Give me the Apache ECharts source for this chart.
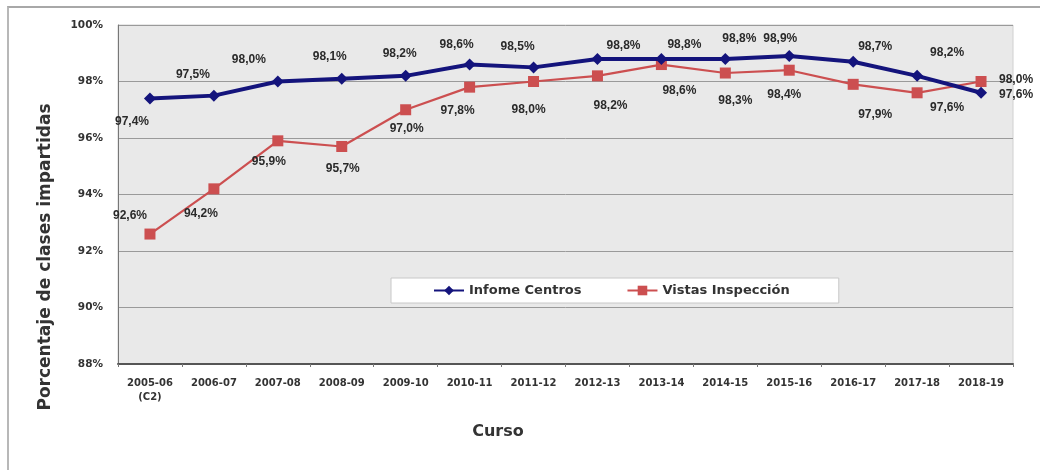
<!DOCTYPE html>
<html>
<head>
<meta charset="utf-8">
<script src="https://cdn.jsdelivr.net/npm/echarts@6/dist/echarts.min.js"></script>
<style>
  html, body { margin: 0; padding: 0; background: #fff; }
  #frame { position: absolute; left: 7px; top: 6px; width: 1040px; height: 470px;
           border-top: 2px solid #a8a8a8; border-left: 2px solid #b8b8b8; }
  #chart { position: absolute; left: 0; top: 0; width: 1040px; height: 470px; }
</style>
</head>
<body>
<div id="frame"></div>
<div id="chart"></div>
<script>
var cursos = ['2005-06\n(C2)', '2006-07', '2007-08', '2008-09', '2009-10', '2010-11', '2011-12',
              '2012-13', '2013-14', '2014-15', '2015-16', '2016-17', '2017-18', '2018-19'];
var informeCentros = [97.4, 97.5, 98.0, 98.1, 98.2, 98.6, 98.5, 98.8, 98.8, 98.8, 98.9, 98.7, 98.2, 97.6];
var vistasInspeccion = [92.6, 94.2, 95.9, 95.7, 97.0, 97.8, 98.0, 98.2, 98.6, 98.3, 98.4, 97.9, 97.6, 98.0];

// label offsets from the point, in px
var informeOffsets = [[-18, 23], [-21, -21], [-29, -22], [-12, -22], [-6, -22], [-13, -20], [-16, -21],
                      [26, -13], [23, -14], [14, -20], [-9, -17], [22, -15], [30, -23], [35, 2]];
var vistasOffsets = [[-20, -18], [-13, 25], [-9, 21], [1, 22], [1, 19], [-12, 24], [-5, 28],
                     [13, 30], [18, 26], [10, 28], [-5, 24], [22, 30], [30, 15], [35, -2]];

function fmt(v) {
    return v.toFixed(1).replace('.', ',') + '%';
}

function buildData(values, offsets) {
    var out = [];
    for (var i = 0; i < values.length; i++) {
        out.push({
            value: values[i],
            label: { position: 'inside', offset: offsets[i] }
        });
    }
    return out;
}

var labelStyle = {
    show: true,
    fontFamily: 'Liberation Sans',
    fontWeight: 'bold',
    fontSize: 12,
    color: '#2a2a2a',
    formatter: function (p) { return fmt(p.value); }
};

var myChart = echarts.init(document.getElementById('chart'));
var options = {
    animation: false,
    textStyle: { fontFamily: 'DejaVu Sans' },
    grid: {
        left: 118, right: 27, top: 25, bottom: 106,
        show: true,
        backgroundColor: '#e9e9e9',
        borderColor: '#d0d0d0',
        borderWidth: 1
    },
    graphic: [{
        type: 'text',
        x: 46, y: 257,
        rotation: Math.PI / 2,
        style: {
            text: 'Porcentaje de clases impartidas',
            font: 'bold 17px "DejaVu Sans"',
            fill: '#333',
            align: 'center',
            verticalAlign: 'middle'
        }
    }, {
        type: 'text',
        x: 498, y: 432,
        style: {
            text: 'Curso',
            font: 'bold 16px "DejaVu Sans"',
            fill: '#333',
            align: 'center',
            verticalAlign: 'middle'
        }
    }],
    legend: {
        left: 391, top: 278,
        padding: [6, 49, 6, 42],
        backgroundColor: '#ffffff',
        borderColor: '#c8c8c8',
        borderWidth: 1,
        itemGap: 45,
        itemWidth: 30,
        itemHeight: 12,
        textStyle: { fontFamily: 'DejaVu Sans', fontWeight: 'bold', fontSize: 13, color: '#333' },
        data: ['Infome Centros', 'Vistas Inspección']
    },
    xAxis: {
        type: 'category',
        data: cursos,
        axisLine: { lineStyle: { color: '#555', width: 2 } },
        axisTick: { show: true, length: 3, lineStyle: { color: '#777' } },
        axisLabel: { fontFamily: 'DejaVu Sans', fontWeight: 'bold', fontSize: 10, color: '#333', margin: 12, lineHeight: 14 }
    },
    yAxis: {
        type: 'value',
        min: 88, max: 100, interval: 2,
        axisLine: { show: true, lineStyle: { color: '#777' } },
        axisTick: { show: false },
        axisLabel: { formatter: '{value}%', fontFamily: 'DejaVu Sans', fontWeight: 'bold', fontSize: 10.5, color: '#333', margin: 15 },
        splitLine: { lineStyle: { color: '#9a9a9a', width: 1 } }
    },
    series: [{
        name: 'Infome Centros',
        type: 'line',
        data: buildData(informeCentros, informeOffsets),
        symbol: 'diamond',
        symbolSize: 12,
        itemStyle: { color: '#14147c' },
        lineStyle: { color: '#14147c', width: 4 },
        label: labelStyle,
        z: 3
    }, {
        name: 'Vistas Inspección',
        type: 'line',
        data: buildData(vistasInspeccion, vistasOffsets),
        symbol: 'rect',
        symbolSize: 11,
        itemStyle: { color: '#cc4f50' },
        lineStyle: { color: '#cc4f50', width: 2.2 },
        label: labelStyle,
        z: 2
    }]
};
myChart.setOption(options, true);
</script>
</body>
</html>
